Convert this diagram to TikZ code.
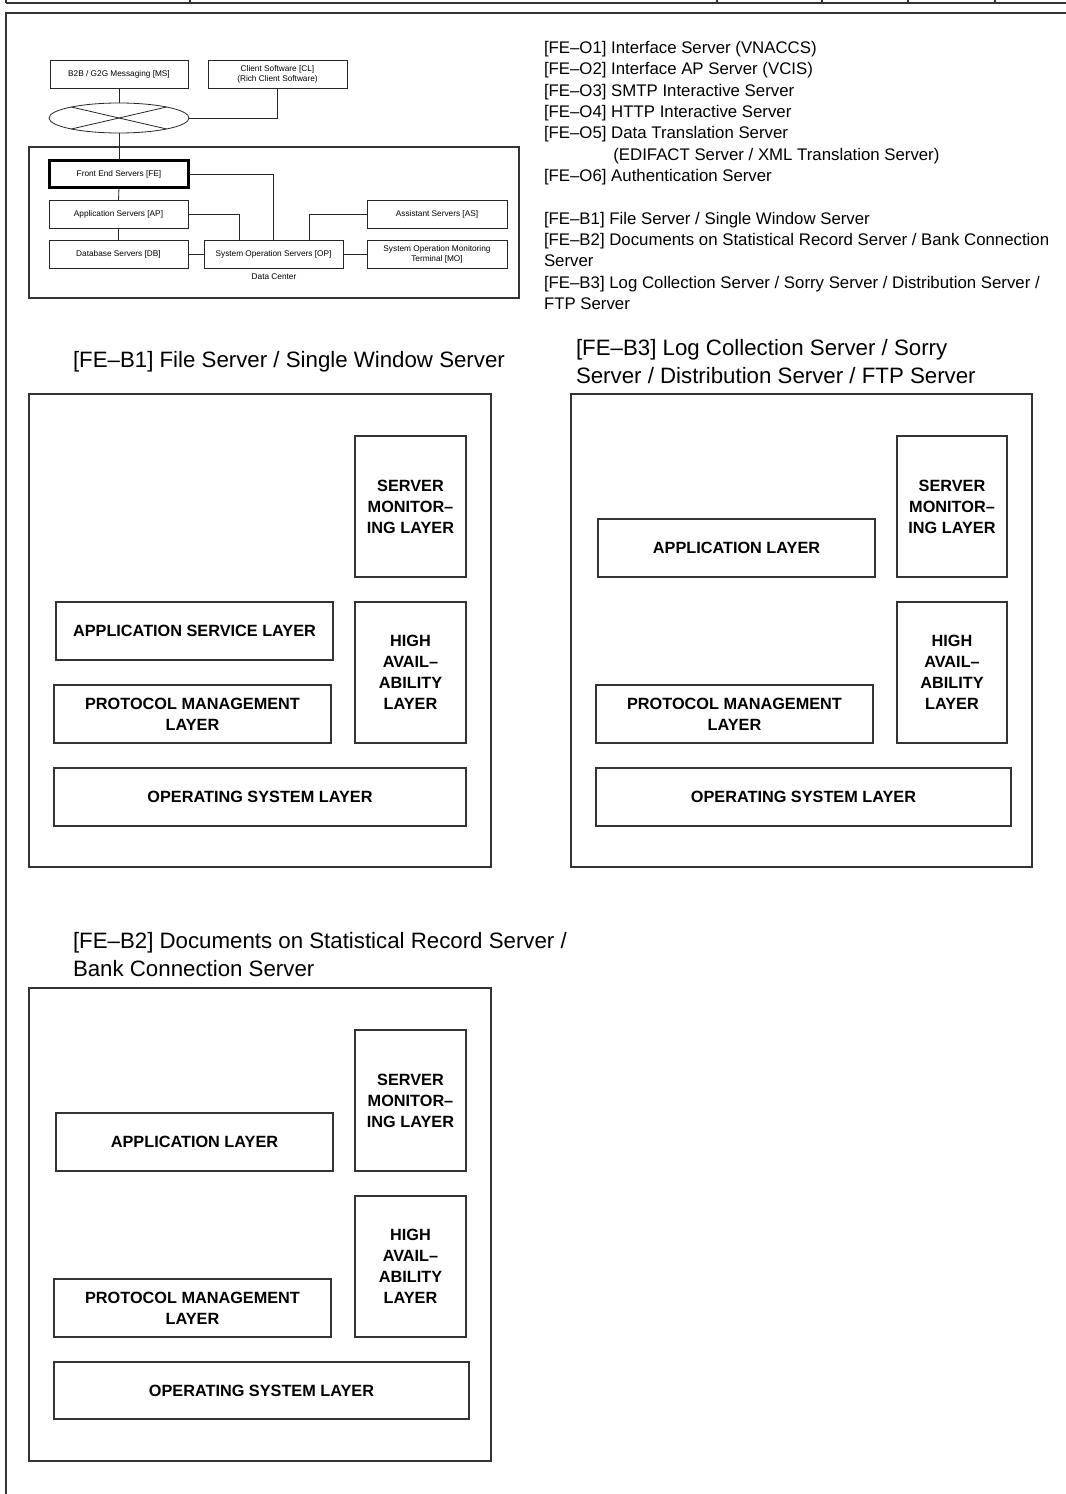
\documentclass[tikz,border=0pt]{standalone}
\usepackage{fontspec}
\setmainfont{Liberation Sans}
\usetikzlibrary{fit,shapes.geometric}

% a framed box given by two corners, with its caption centred in it
\newcommand\captionedbox[4]{%
  \node[#2={#3}] (#1) {};
  \node[#2text] (#1text) at (#1.center) {#4};}

\begin{document}
\begin{tikzpicture}[x=0.75pt,y=-0.75pt,
  every node/.style={inner sep=0pt,outer sep=0pt},
  rule/.style={draw=black!80,line width=1.3pt},
  frame/.style={draw=black!80,line width=0.8pt,fit={#1}},
  layer/.style={draw=black!80,line width=0.8pt,fit={#1}},
  layertext/.style={align=center,font=\fontsize{12.2}{15.75}\selectfont\bfseries},
  sbox/.style={draw=black!85,line width=0.6pt,fit={#1}},
  sboxtext/.style={align=center,font=\fontsize{6.2}{7.3}\selectfont},
  febox/.style={draw=black,line width=2.2pt,fit={#1}},
  feboxtext/.style={align=center,font=\fontsize{6.2}{7.3}\selectfont},
  link/.style={draw=black!85,line width=0.6pt},
  title/.style={anchor=base west,align=left,font=\fontsize{16.7}{21}\selectfont},
  listtext/.style={anchor=base west,align=left,font=\fontsize{12.6}{16}\selectfont},
]
\useasboundingbox (0,0) rectangle (1066,1494);

% header strip and page frame
\draw[rule] (6,3) -- (1066,3);
\foreach \xx in {6,190,717,822,908,995} \draw[rule] (\xx,0) -- (\xx,3);
\draw[rule] (1066,13) -- (6,13) -- (6,1494);

% ---------- system overview ----------
\node[frame={(29,147) (519,298)}] (dc) {};
\node[sboxtext] (dclabel) at (274,277) {Data Center};

\captionedbox{ms}{sbox}{(50,60) (188,88)}{B2B / G2G Messaging [MS]}
\captionedbox{cl}{sbox}{(208,60) (347,88)}{Client Software [CL]\\(Rich Client Software)}
\node[draw=black!85,line width=0.6pt,ellipse,minimum width=105pt,minimum height=22.5pt] (net) at (119,118) {};
\draw[link] (net.167) -- (net.347);
\draw[link] (net.13) -- (net.193);

\captionedbox{fe}{febox}{(49.5,160.5) (188.5,187.5)}{Front End Servers [FE]}
\captionedbox{ap}{sbox}{(49,200) (188,228)}{Application Servers [AP]}
\captionedbox{db}{sbox}{(49,240) (188,268)}{Database Servers [DB]}
\captionedbox{op}{sbox}{(204,240) (343,268)}{System Operation Servers [OP]}
\captionedbox{as}{sbox}{(367,200) (507,228)}{Assistant Servers [AS]}
\captionedbox{mo}{sbox}{(367,240) (507,268)}{System Operation Monitoring\\Terminal [MO]}

\draw[link] (ms.south) -- (net.north);
\draw[link] (net.east) -| (cl.south);
\draw[link] (net.south) -- (fe.north);
\draw[link] (fe.south) -- (ap.north);
\draw[link] (ap.south) -- (db.north);
\draw[link] (fe.east) -| (op.north);
\draw[link] (ap.east) -| ([xshift=26.25pt]op.north west);
\draw[link] (as.west) -| ([xshift=-25.5pt]op.north east);
\draw[link] (db.east) -- (op.west);
\draw[link] (op.east) -- (mo.west);

% ---------- server list (anchored at the baseline of its last line) ----------
\node[listtext] (serverlist) at (544,309.5) {%
{[FE–O1]} Interface Server (VNACCS)\\
{[FE–O2]} Interface AP Server (VCIS)\\
{[FE–O3]} SMTP Interactive Server\\
{[FE–O4]} HTTP Interactive Server\\
{[FE–O5]} Data Translation Server\\
\hspace*{52pt}(EDIFACT Server / XML Translation Server)\\
{[FE–O6]} Authentication Server\\
\mbox{}\\
{[FE–B1]} File Server / Single Window Server\\
{[FE–B2]} Documents on Statistical Record Server / Bank Connection\\
Server\\
{[FE–B3]} Log Collection Server / Sorry Server / Distribution Server /\\
FTP Server};

% ---------- FE-B1 ----------
\node[title] (b1title) at (73,367) {[FE–B1] File Server / Single Window Server};
\node[frame={(29,394) (491,867)}] (b1) {};
\captionedbox{bosml}{layer}{(355,436) (466,577)}{SERVER\\MONITOR–\\ING LAYER}
\captionedbox{boasl}{layer}{(56,602) (333,660)}{APPLICATION SERVICE LAYER}
\captionedbox{boha}{layer}{(355,602) (466,743)}{HIGH\\AVAIL–\\ABILITY\\LAYER}
\captionedbox{bopml}{layer}{(54,685) (331,743)}{PROTOCOL MANAGEMENT\\LAYER}
\captionedbox{boos}{layer}{(54,768) (466,826)}{OPERATING SYSTEM LAYER}

% ---------- FE-B3 ----------
\node[title] (b3title) at (576,383) {[FE–B3] Log Collection Server / Sorry\\Server / Distribution Server / FTP Server};
\node[frame={(571,394) (1032,867)}] (b3) {};
\captionedbox{btsml}{layer}{(897,436) (1007,577)}{SERVER\\MONITOR–\\ING LAYER}
\captionedbox{btal}{layer}{(598,519) (875,577)}{APPLICATION LAYER}
\captionedbox{btha}{layer}{(897,602) (1007,743)}{HIGH\\AVAIL–\\ABILITY\\LAYER}
\captionedbox{btpml}{layer}{(596,685) (873,743)}{PROTOCOL MANAGEMENT\\LAYER}
\captionedbox{btos}{layer}{(596,768) (1011,826)}{OPERATING SYSTEM LAYER}

% ---------- FE-B2 ----------
\node[title] (b2title) at (73,976) {[FE–B2] Documents on Statistical Record Server /\\Bank Connection Server};
\node[frame={(29,988) (491,1461)}] (b2) {};
\captionedbox{bwsml}{layer}{(355,1030) (466,1171)}{SERVER\\MONITOR–\\ING LAYER}
\captionedbox{bwal}{layer}{(56,1113) (333,1171)}{APPLICATION LAYER}
\captionedbox{bwha}{layer}{(355,1196) (466,1337)}{HIGH\\AVAIL–\\ABILITY\\LAYER}
\captionedbox{bwpml}{layer}{(54,1279) (331,1337)}{PROTOCOL MANAGEMENT\\LAYER}
\captionedbox{bwos}{layer}{(54,1362) (469,1419)}{OPERATING SYSTEM LAYER}
\end{tikzpicture}
\end{document}
